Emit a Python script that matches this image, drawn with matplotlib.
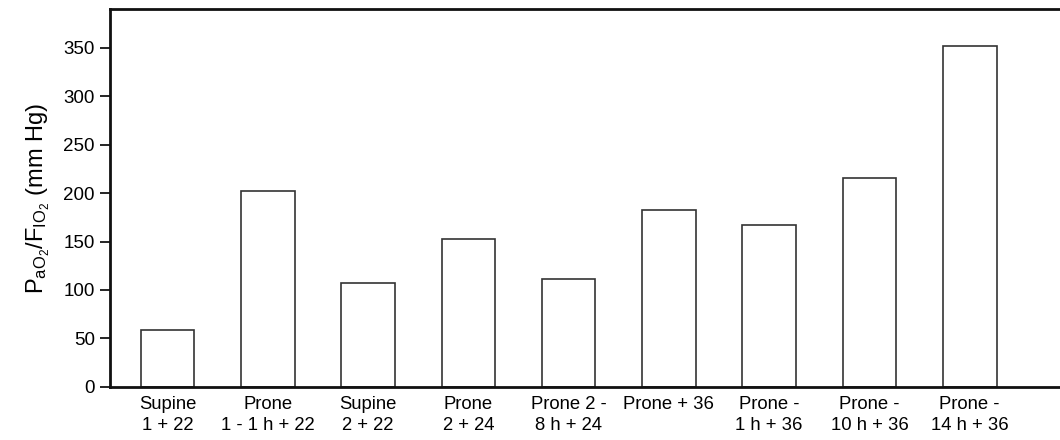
import numpy as np
import matplotlib
matplotlib.use("Agg")
import matplotlib.pyplot as plt

plt.rcParams['font.family'] = ['Liberation Sans', 'DejaVu Sans']
plt.rcParams['mathtext.fontset'] = 'custom'
plt.rcParams['mathtext.rm'] = 'Liberation Sans'
plt.rcParams['mathtext.it'] = 'Liberation Sans'

categories = ["Supine\n1 + 22", "Prone\n1 - 1 h + 22", "Supine\n2 + 22", "Prone\n2 + 24",
              "Prone 2 -\n8 h + 24", "Prone + 36\n", "Prone -\n1 h + 36",
              "Prone -\n10 h + 36", "Prone -\n14 h + 36"]
ratio = [58.6, 202.6, 106.9, 152.3, 111.6, 182.9, 166.8, 216, 352.4]
yticks = [0, 50, 100, 150, 200, 250, 300, 350]

fig = plt.figure(figsize=(10.6, 4.4), dpi=100)
ax = fig.add_axes([0.1038, 0.121, 0.8962, 0.858])

x = np.arange(len(categories))
ax.bar(x, ratio, width=0.535, color='white', edgecolor='#333333', linewidth=1.2)

ax.set_xlim(-0.573, 8.9)
ax.set_ylim(0, 390)
ax.set_yticks(yticks)
ax.set_xticks(x)
ax.set_xticklabels(categories, fontsize=13.3, linespacing=1.3)
ax.tick_params(axis='x', length=0, pad=7)
ax.tick_params(axis='y', length=7, width=1.2, labelsize=13.5, pad=4)
for s in ['left', 'bottom', 'top']:
  ax.spines[s].set_linewidth(2)
  ax.spines[s].set_color('#111111')
ax.spines['right'].set_visible(False)

ax.set_ylabel(r'$\mathregular{P_{aO_2}/F_{IO_2}}$ (mm Hg)', fontsize=17, labelpad=8)

fig.savefig('out.png', dpi=100)
